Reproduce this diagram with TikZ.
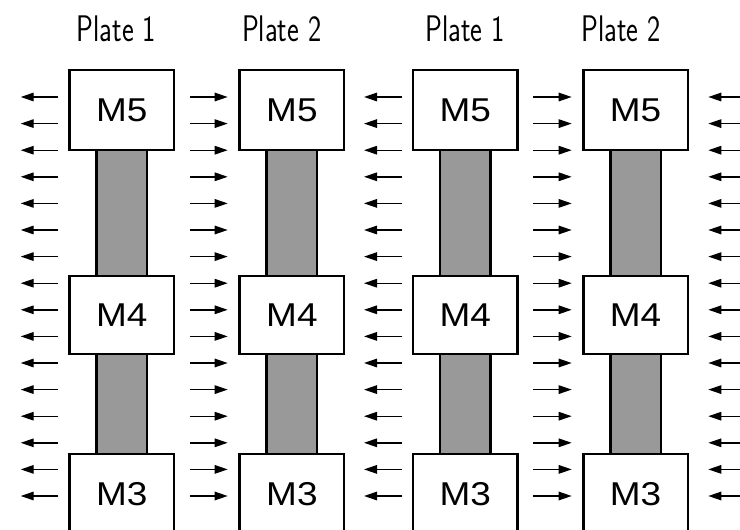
\documentclass[tikz,border=0pt]{standalone}
\usepackage{fontspec}
\newfontfamily\labelfont{Liberation Sans}
\usetikzlibrary{arrows.meta,calc}
\begin{document}
\begin{tikzpicture}[x=1pt,y=-1pt,
  metal/.style={draw=black,line width=2.5pt,fill=white,minimum width=104.5pt,minimum height=78pt,inner sep=0pt,
    font=\labelfont\fontsize{33}{33}\selectfont},
  via/.style={draw=black,line width=2.5pt,fill=black!40},
  platelabel/.style={anchor=base,inner sep=0pt,font=\sffamily\fontsize{37}{37}\selectfont},
  field/.style={line width=1.4pt,-{Triangle[length=13pt,width=8.5pt]}}]
\clip (0,0) rectangle (740,530);
\fill[white] (0,0) rectangle (740,530);

% plate titles
\node[platelabel] (t1) at (116.4,41.7) {\scalebox{0.76}[1]{Plate 1}};
\node[platelabel] (t2) at (281.7,41.7) {\scalebox{0.76}[1]{Plate 2}};
\node[platelabel] (t3) at (465,41.7) {\scalebox{0.76}[1]{Plate 1}};
\node[platelabel] (t4) at (621,41.7) {\scalebox{0.76}[1]{Plate 2}};

% metal stacks: M5, M4, M3 joined by vias
\foreach \n/\x in {a/121.7, b/291.9, c/465.3, d/635.6}{
  \coordinate (\n5) at (\x,110);
  \coordinate (\n4) at (\x,315);
  \coordinate (\n3) at (\x,494);
  \draw[via] ($(\n5)+(-25.2,40)$) rectangle ($(\n4)+(25.2,-39)$);
  \draw[via] ($(\n4)+(-25.2,39)$) rectangle ($(\n3)+(25.2,-40)$);
  \node[metal,minimum height=80pt] (\n m5) at (\n5) {\scalebox{1.12}[1]{M5}};
  \node[metal] (\n m4) at (\n4) {\scalebox{1.12}[1]{M4}};
  \node[metal,minimum height=80pt] (\n m3) at (\n3) {\scalebox{1.12}[1]{M3}};
}

% field arrows between the plates
\foreach \k in {0,...,15}{
  \pgfmathsetmacro{\yy}{97+26.6*\k}
  \coordinate (l1s\k) at (58.3,\yy);  \coordinate (l1e\k) at (20.7,\yy);
  \coordinate (r2s\k) at (190,\yy);   \coordinate (r2e\k) at (227.7,\yy);
  \coordinate (l3s\k) at (402.3,\yy); \coordinate (l3e\k) at (364,\yy);
  \coordinate (r4s\k) at (533.3,\yy); \coordinate (r4e\k) at (571.7,\yy);
  \coordinate (l5s\k) at (746,\yy);   \coordinate (l5e\k) at (708.3,\yy);
  \draw[field] (l1s\k) -- (l1e\k);
  \draw[field] (r2s\k) -- (r2e\k);
  \draw[field] (l3s\k) -- (l3e\k);
  \draw[field] (r4s\k) -- (r4e\k);
  \draw[field] (l5s\k) -- (l5e\k);
}
\end{tikzpicture}
\end{document}
